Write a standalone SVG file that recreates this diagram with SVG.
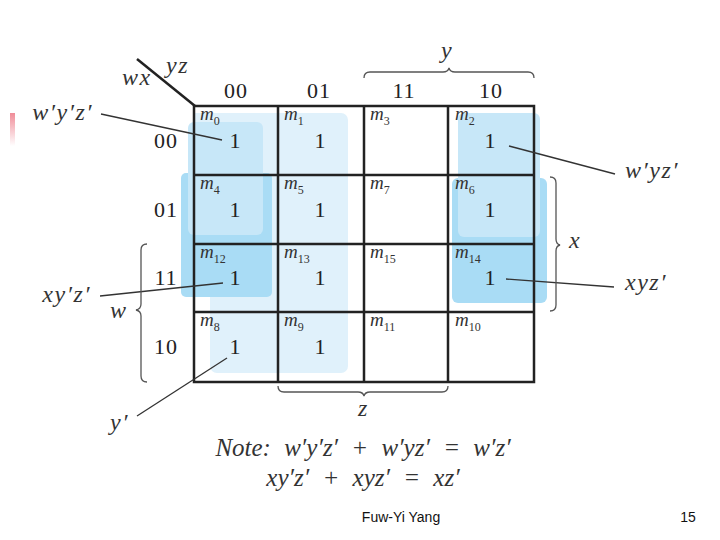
<svg xmlns="http://www.w3.org/2000/svg" width="720" height="540" viewBox="0 0 720 540">
<defs>
<linearGradient id="pink" x1="0" y1="0" x2="0" y2="1">
<stop offset="0" stop-color="#f08c98"/>
<stop offset="1" stop-color="#ffffff"/>
</linearGradient>
<style>
.grid{fill:none;stroke:#222;stroke-width:2.5}
.gl{stroke:#222;stroke-width:2.5}
.lead{fill:none;stroke:#333;stroke-width:1.3}
.brace{fill:none;stroke:#555;stroke-width:1.3}
.serif{font-family:'Liberation Serif','Times New Roman',Times,'DejaVu Serif',serif}
.dig{font-size:22px;fill:#222;text-anchor:middle;letter-spacing:1px}
.one{font-size:22px;fill:#222;text-anchor:middle}
.m{font-style:italic;font-size:19px;fill:#333}
.sub{font-size:12px;font-style:normal}
.var{font-style:italic;font-size:24px;fill:#333;letter-spacing:1.5px}
.note{font-style:italic;font-size:25px;fill:#333;word-spacing:7px}
.foot{font-family:'Liberation Sans',Arial,sans-serif;font-size:14px;fill:#111}
.g1{fill:#e0f1fb}
.g2{fill:#c7e7f8}
.g3{fill:#a9dcf5}
</style>
</defs>
<rect width="720" height="540" fill="#fff"/>
<rect x="10" y="113" width="5" height="33" fill="url(#pink)"/>

<g id="groups">
<rect id="grp-yprime" class="g1" x="210" y="113" width="138" height="260" rx="7"/>
<path class="g1" d="M194,113 L216,113 L216,130 L194,130 Z"/>
<rect id="grp-xz-left" class="g3" x="181" y="173" width="91" height="124" rx="5"/>
<rect id="grp-xz-right" class="g3" x="452" y="178" width="95" height="125" rx="6"/>
<rect id="grp-wz-left" class="g2" x="188" y="122" width="75" height="113" rx="6"/>
<rect id="grp-wz-right" class="g2" x="458" y="113" width="82" height="124" rx="6"/>
</g>

<g id="grid">
<rect class="grid" x="194" y="106" width="340" height="276"/>
<line class="gl" x1="278" y1="106" x2="278" y2="382"/>
<line class="gl" x1="364" y1="106" x2="364" y2="382"/>
<line class="gl" x1="448" y1="106" x2="448" y2="382"/>
<line class="gl" x1="194" y1="175" x2="534" y2="175"/>
<line class="gl" x1="194" y1="244" x2="534" y2="244"/>
<line class="gl" x1="194" y1="312" x2="534" y2="312"/>
<line x1="137" y1="59" x2="195" y2="106" stroke="#222" stroke-width="2.5"/>
</g>

<g id="headers" class="serif">
<text class="var" x="122" y="85">wx</text>
<text class="var" x="166" y="73">yz</text>
<text class="dig" x="236" y="98">00</text>
<text class="dig" x="319" y="98">01</text>
<text class="dig" x="404" y="98">11</text>
<text class="dig" x="491" y="98">10</text>
<text class="dig" x="166" y="148">00</text>
<text class="dig" x="166" y="217">01</text>
<text class="dig" x="166" y="285">11</text>
<text class="dig" x="166" y="354">10</text>
</g>

<g class="serif">
<g id="cell-m0"><text class="m" x="200" y="120">m<tspan class="sub" dy="5">0</tspan></text><text class="one" x="235" y="148">1</text></g>
<g id="cell-m1"><text class="m" x="284" y="120">m<tspan class="sub" dy="5">1</tspan></text><text class="one" x="320" y="148">1</text></g>
<g id="cell-m3"><text class="m" x="370" y="120">m<tspan class="sub" dy="5">3</tspan></text></g>
<g id="cell-m2"><text class="m" x="455" y="120">m<tspan class="sub" dy="5">2</tspan></text><text class="one" x="490" y="148">1</text></g>
<g id="cell-m4"><text class="m" x="200" y="189">m<tspan class="sub" dy="5">4</tspan></text><text class="one" x="235" y="217">1</text></g>
<g id="cell-m5"><text class="m" x="284" y="189">m<tspan class="sub" dy="5">5</tspan></text><text class="one" x="320" y="217">1</text></g>
<g id="cell-m7"><text class="m" x="370" y="189">m<tspan class="sub" dy="5">7</tspan></text></g>
<g id="cell-m6"><text class="m" x="455" y="189">m<tspan class="sub" dy="5">6</tspan></text><text class="one" x="490" y="217">1</text></g>
<g id="cell-m12"><text class="m" x="200" y="258">m<tspan class="sub" dy="5">12</tspan></text><text class="one" x="235" y="285">1</text></g>
<g id="cell-m13"><text class="m" x="284" y="258">m<tspan class="sub" dy="5">13</tspan></text><text class="one" x="320" y="285">1</text></g>
<g id="cell-m15"><text class="m" x="370" y="258">m<tspan class="sub" dy="5">15</tspan></text></g>
<g id="cell-m14"><text class="m" x="455" y="258">m<tspan class="sub" dy="5">14</tspan></text><text class="one" x="490" y="285">1</text></g>
<g id="cell-m8"><text class="m" x="200" y="326">m<tspan class="sub" dy="5">8</tspan></text><text class="one" x="235" y="354">1</text></g>
<g id="cell-m9"><text class="m" x="284" y="326">m<tspan class="sub" dy="5">9</tspan></text><text class="one" x="320" y="354">1</text></g>
<g id="cell-m11"><text class="m" x="370" y="326">m<tspan class="sub" dy="5">11</tspan></text></g>
<g id="cell-m10"><text class="m" x="455" y="326">m<tspan class="sub" dy="5">10</tspan></text></g>
</g>

<g id="connectors">
<line class="lead" x1="101" y1="114" x2="222" y2="140"/>
<line class="lead" x1="509" y1="146" x2="615" y2="174"/>
<line class="lead" x1="100" y1="296" x2="223" y2="283"/>
<line class="lead" x1="506" y1="279" x2="614" y2="287"/>
<line class="lead" x1="137" y1="416" x2="227" y2="358"/>
<path class="brace" d="M364,78 Q364,72 370,72 L443,72 Q448,72 449,68 Q450,72 455,72 L528,72 Q534,72 534,78"/>
<path class="brace" d="M550,177 Q556,177 556,183 L556,239 Q556,244 560,245 Q556,246 556,251 L556,305 Q556,311 550,311"/>
<path class="brace" d="M147,244 Q141,244 141,250 L141,304 Q141,309 136,310 Q141,311 141,316 L141,376 Q141,382 147,382"/>
<path class="brace" d="M278,386 Q278,392 284,392 L358,392 Q363,392 364,396 Q365,392 370,392 L442,392 Q448,392 448,386"/>
</g>

<g id="labels" class="serif">
<text class="var" x="93" y="120" text-anchor="end">w′y′z′</text>
<text class="var" x="625" y="178">w′yz′</text>
<text class="var" x="91" y="302" text-anchor="end">xy′z′</text>
<text class="var" x="625" y="290">xyz′</text>
<text class="var" x="110" y="318">w</text>
<text class="var" x="441" y="58">y</text>
<text class="var" x="569" y="248">x</text>
<text class="var" x="358" y="416">z</text>
<text class="var" x="110" y="430">y′</text>
</g>

<g id="note" class="serif">
<text class="note" x="363" y="456" text-anchor="middle">Note: w′y′z′ + w′yz′ = w′z′</text>
<text class="note" x="363" y="486" text-anchor="middle">xy′z′ + xyz′ = xz′</text>
</g>

<text class="foot" x="401" y="522" text-anchor="middle">Fuw-Yi Yang</text>
<text class="foot" x="688" y="522" text-anchor="middle">15</text>
</svg>
